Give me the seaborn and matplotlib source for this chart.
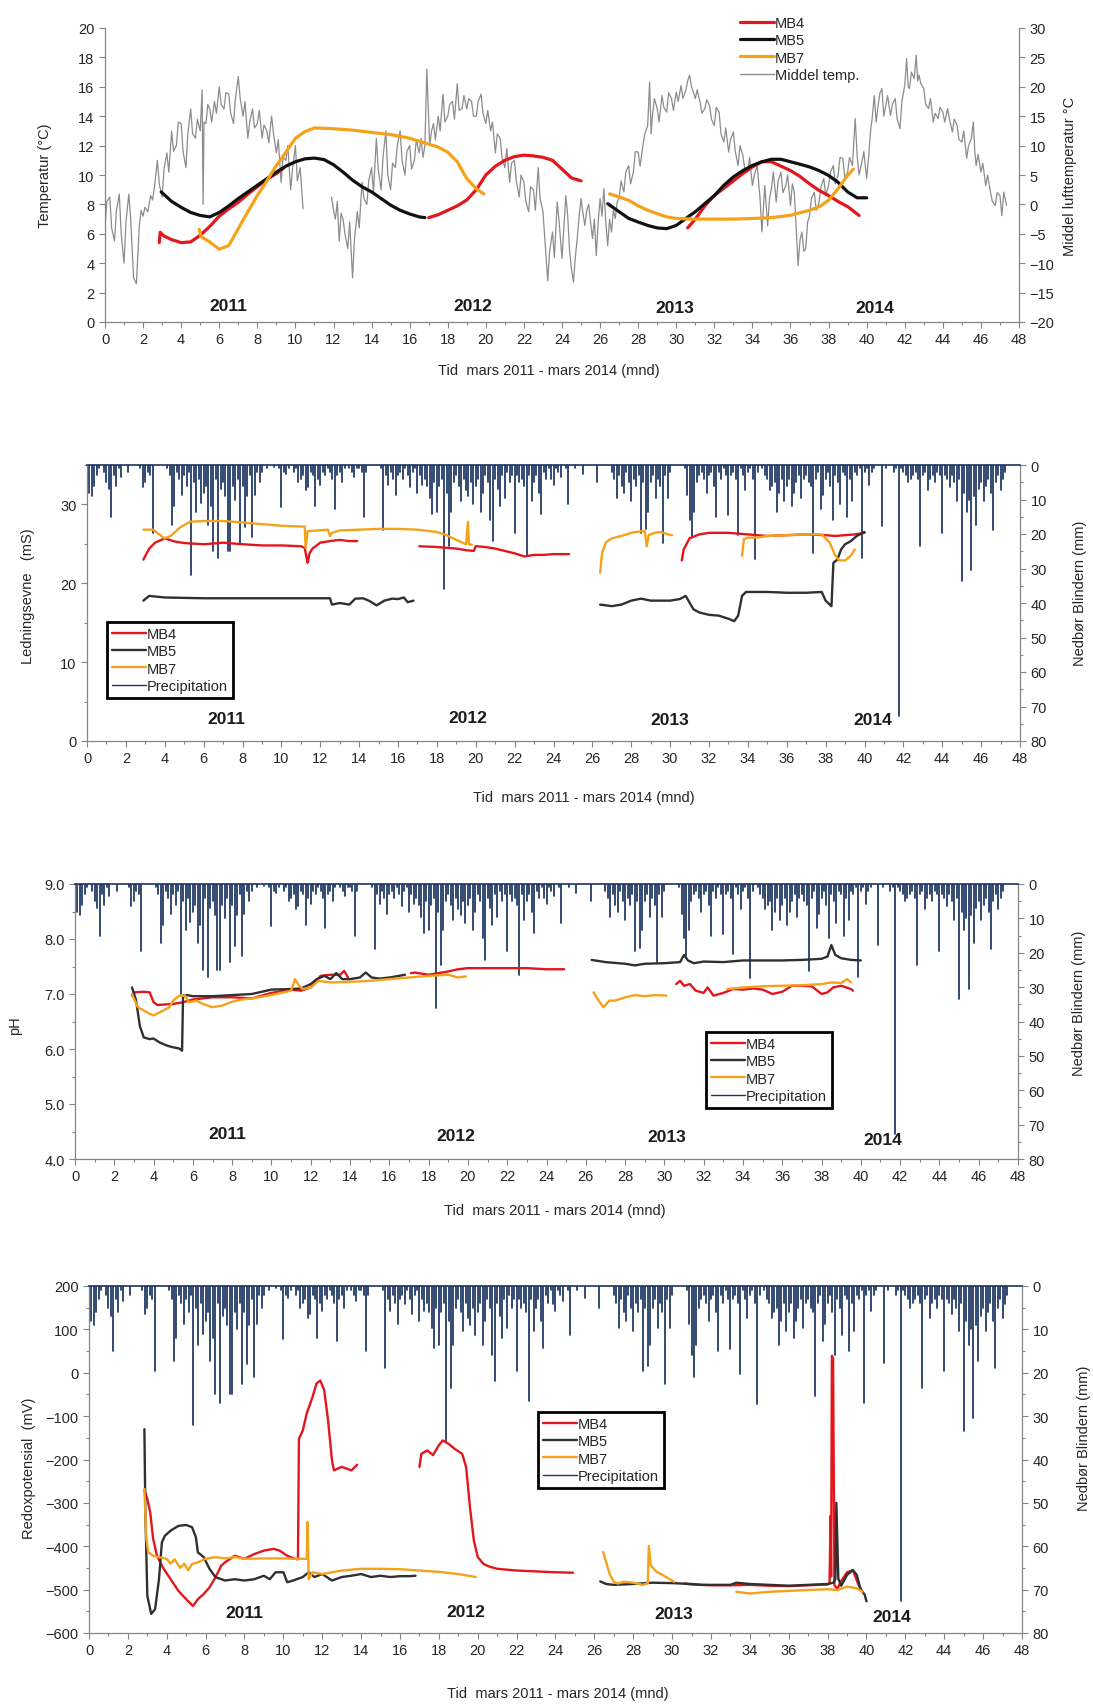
"""
Grunnvannsovervaking MB4 / MB5 / MB7, mars 2011 - mars 2014.

Fire paneler: temperatur, ledningsevne, pH og redokspotensial,
med lufttemperatur eller nedbor (Blindern) paa hoyre akse.
"""

import numpy as np
import pandas as pd
import matplotlib
matplotlib.use("Agg")
import matplotlib.pyplot as plt
import seaborn as sns
from matplotlib.lines import Line2D
from matplotlib.ticker import MultipleLocator, FormatStrFormatter

sns.set_theme(style="ticks")
plt.rcParams['font.family'] = ['Liberation Sans', 'DejaVu Sans']

# ---------------------------------------------------------------------------
# Data (months since March 2011)
# ---------------------------------------------------------------------------

YEARS = ["2011", "2012", "2013", "2014"]

# Panel 1: well temperature (deg C, left axis)
MB4_TEMP = [
    [(2.85, 5.4), (2.9, 6.1), (3.1, 5.85), (3.5, 5.6), (4.0, 5.4), (4.5, 5.45), (5.0, 5.9),
     (5.5, 6.5), (6.0, 7.2), (6.5, 7.7), (7.0, 8.15), (7.5, 8.7), (8.0, 9.2), (8.5, 9.7),
     (9.0, 10.1), (9.4, 10.5)],
    [(17.0, 7.1), (17.5, 7.3), (18.0, 7.6), (18.5, 7.9), (19.0, 8.3), (19.5, 9.0), (20.0, 10.0),
     (20.5, 10.6), (21.0, 11.0), (21.5, 11.25), (22.0, 11.35), (22.5, 11.3), (23.0, 11.2),
     (23.5, 11.0), (24.0, 10.4), (24.5, 9.8), (25.0, 9.6)],
    [(30.6, 6.4), (31.0, 7.0), (31.5, 7.9), (32.0, 8.6), (32.5, 9.1), (33.0, 9.6), (33.5, 10.1),
     (34.0, 10.55), (34.5, 10.9), (35.0, 10.9), (35.5, 10.6), (36.0, 10.3), (36.5, 9.9),
     (37.0, 9.4), (37.5, 8.95), (38.0, 8.6), (38.5, 8.2), (39.0, 7.85), (39.6, 7.25)],
]
MB5_TEMP = [
    [(2.95, 8.85), (3.5, 8.2), (4.0, 7.8), (4.5, 7.45), (5.0, 7.25), (5.5, 7.15), (6.0, 7.45),
     (6.5, 7.9), (7.0, 8.4), (7.5, 8.85), (8.0, 9.3), (8.5, 9.75), (9.0, 10.2), (9.5, 10.6),
     (10.0, 10.9), (10.5, 11.1), (11.0, 11.15), (11.5, 11.05), (12.0, 10.7), (12.5, 10.2),
     (13.0, 9.65), (13.5, 9.2), (14.0, 8.85), (14.5, 8.4), (15.0, 7.95), (15.5, 7.6),
     (16.0, 7.35), (16.5, 7.15), (16.8, 7.1)],
    [(26.4, 8.05), (27.0, 7.5), (27.5, 7.05), (28.0, 6.8), (28.5, 6.57), (29.0, 6.4),
     (29.5, 6.35), (30.0, 6.57), (30.5, 7.04), (31.0, 7.5), (31.5, 8.05), (32.0, 8.6),
     (32.5, 9.3), (33.0, 9.87), (33.5, 10.3), (34.0, 10.65), (34.5, 10.9), (35.0, 11.07),
     (35.5, 11.07), (36.0, 10.9), (36.5, 10.73), (37.0, 10.55), (37.5, 10.3), (38.0, 9.97),
     (38.5, 9.5), (39.0, 8.85), (39.5, 8.45), (40.0, 8.45)],
]
MB7_TEMP = [
    [(4.95, 6.3), (5.05, 5.8), (5.5, 5.45), (6.0, 4.95), (6.5, 5.2), (7.0, 6.35), (7.5, 7.5),
     (8.0, 8.6), (8.5, 9.6), (9.0, 10.65), (9.5, 11.55), (10.0, 12.5), (10.5, 12.95),
     (11.0, 13.2), (12.0, 13.15), (13.0, 13.05), (14.0, 12.9), (15.0, 12.75), (16.0, 12.5),
     (17.0, 12.1), (17.5, 11.9), (18.0, 11.55), (18.5, 10.9), (19.0, 9.75), (19.5, 9.07),
     (19.9, 8.7)],
    [(26.5, 8.72), (27.0, 8.5), (27.5, 8.28), (28.0, 7.9), (28.5, 7.6), (29.0, 7.37),
     (29.5, 7.15), (30.0, 7.04), (31.0, 7.0), (32.0, 7.0), (33.0, 7.0), (34.0, 7.04),
     (35.0, 7.1), (36.0, 7.26), (37.0, 7.6), (37.5, 7.83), (38.0, 8.28), (38.5, 9.07),
     (39.0, 9.97), (39.3, 10.4)],
]

# Panel 1: mean air temperature (deg C, right axis)
AIR_TEMP = [
    [(0.0, -3.75), (0.1, 0.5), (0.25, 1.25), (0.35, -4.0), (0.5, -6.25), (0.6, -1.0),
     (0.75, 1.75), (0.85, -5.0), (1.0, -10.0), (1.1, -3.0), (1.25, 1.75), (1.35, -2.5),
     (1.5, -12.5), (1.65, -13.5), (1.8, -3.75), (1.9, -1.0), (2.0, -2.0), (2.1, -0.5),
     (2.25, -1.25), (2.4, 1.5), (2.5, 0.75), (2.6, 3.0), (2.75, 7.5), (2.85, 3.5), (3.0, 1.25),
     (3.1, 6.0), (3.25, 8.75), (3.35, 5.5), (3.5, 12.5), (3.6, 9.0), (3.75, 10.0), (3.85, 14.0),
     (4.0, 13.75), (4.1, 9.0), (4.25, 6.25), (4.35, 12.0), (4.5, 16.25), (4.6, 12.0),
     (4.75, 11.25), (4.85, 14.5), (5.0, 12.5), (5.1, 19.5), (5.15, 0.0), (5.2, 14.0),
     (5.3, 13.75), (5.4, 17.0), (5.5, 16.25), (5.6, 14.0), (5.75, 17.5), (5.85, 15.5),
     (6.0, 20.0), (6.1, 17.0), (6.25, 16.25), (6.35, 19.0), (6.5, 18.75), (6.6, 15.5),
     (6.75, 13.75), (6.85, 18.0), (7.0, 21.75), (7.1, 18.0), (7.25, 15.0), (7.35, 17.5),
     (7.5, 11.25), (7.6, 14.0), (7.75, 16.25), (7.85, 13.0), (8.0, 13.75), (8.1, 16.0),
     (8.25, 11.25), (8.35, 13.5), (8.5, 12.5), (8.6, 10.5), (8.75, 15.0), (8.85, 12.0),
     (9.0, 8.75), (9.1, 11.0), (9.25, 3.75), (9.35, 8.0), (9.5, 7.5), (9.6, 10.0),
     (9.75, 2.5), (9.85, 6.0), (10.0, 10.0), (10.1, 4.0), (10.25, 6.25), (10.4, -0.75)],
    [(11.9, 1.25), (12.0, -1.0), (12.1, -2.5), (12.2, 0.5), (12.3, -6.25), (12.4, -1.5),
     (12.5, -2.5), (12.6, -5.0), (12.75, -7.5), (12.85, -3.0), (13.0, -12.5), (13.1, -6.0),
     (13.25, -1.25), (13.35, -4.0), (13.5, 3.75), (13.6, 1.0), (13.75, 0.0), (13.85, 4.0),
     (14.0, 6.25), (14.1, 2.0), (14.25, 11.25), (14.35, 6.0), (14.5, 2.5), (14.6, 8.0),
     (14.75, 12.5), (14.85, 5.0), (15.0, 2.5), (15.1, 7.0), (15.25, 6.25), (15.35, 10.0),
     (15.5, 12.5), (15.6, 7.5), (15.75, 5.0), (15.85, 9.0), (16.0, 10.0), (16.1, 6.0),
     (16.25, 7.5), (16.35, 11.0), (16.5, 8.75), (16.6, 11.25), (16.7, 8.0), (16.8, 10.0),
     (16.9, 23.0), (17.05, 10.0), (17.15, 12.5), (17.25, 13.75), (17.35, 11.0), (17.5, 15.0),
     (17.6, 12.5), (17.75, 18.75), (17.85, 14.0), (18.0, 15.0), (18.1, 17.0), (18.25, 17.5),
     (18.35, 14.5), (18.5, 20.5), (18.6, 16.0), (18.75, 16.25), (18.85, 18.5), (19.0, 16.25),
     (19.1, 18.0), (19.25, 17.5), (19.35, 15.0), (19.5, 15.0), (19.6, 17.5), (19.75, 18.75),
     (19.85, 15.5), (20.0, 13.75), (20.1, 16.0), (20.25, 12.5), (20.35, 14.0), (20.5, 8.75),
     (20.6, 12.0), (20.75, 11.25), (20.85, 8.0), (21.0, 6.25), (21.1, 9.5), (21.25, 3.75),
     (21.35, 7.0), (21.5, 7.5), (21.6, 4.0), (21.75, 1.25), (21.85, 5.0), (22.0, 3.75),
     (22.1, 0.5), (22.25, -1.25), (22.35, 3.0), (22.5, 2.5), (22.6, -1.0), (22.75, 6.25),
     (22.85, 1.0), (23.0, -1.25), (23.1, -6.0), (23.25, -13.0), (23.35, -8.0), (23.5, -4.7),
     (23.6, -9.0), (23.75, 0.4), (23.85, -3.0), (24.0, -9.2), (24.1, -4.0), (24.2, 1.5),
     (24.3, -2.0), (24.4, -8.0), (24.5, -11.0), (24.6, -13.2), (24.7, -9.0), (24.8, -5.8),
     (24.9, -2.0), (25.0, 1.0), (25.1, -1.5), (25.2, -3.6), (25.3, -1.0), (25.4, 0.0),
     (25.5, -3.0), (25.6, -5.8), (25.7, -2.5), (25.8, -8.7), (25.9, -3.0), (26.0, 1.0),
     (26.1, -2.0), (26.2, 2.7), (26.3, -3.0), (26.4, -7.0), (26.5, -2.5), (26.6, -4.7),
     (26.7, -1.0), (26.8, -2.4), (26.9, 0.5), (27.0, 1.0), (27.1, 4.0), (27.25, 2.1),
     (27.35, 5.5), (27.5, 6.6), (27.6, 3.5), (27.75, 5.5), (27.85, 9.0), (28.0, 8.9),
     (28.1, 6.5), (28.25, 10.0), (28.35, 12.0), (28.5, 13.4), (28.6, 20.8), (28.68, 12.0),
     (28.75, 15.1), (28.85, 18.0), (29.0, 16.3), (29.1, 14.0), (29.25, 18.5), (29.35, 16.5),
     (29.5, 15.7), (29.6, 19.0), (29.75, 18.0), (29.85, 16.0), (30.0, 19.1), (30.1, 17.5),
     (30.25, 20.2), (30.35, 18.0), (30.5, 19.4), (30.6, 21.0), (30.7, 22.0), (30.8, 20.0),
     (30.9, 19.1), (31.0, 18.0), (31.1, 19.5), (31.25, 17.4), (31.35, 15.5), (31.5, 16.3),
     (31.6, 17.8), (31.75, 16.8), (31.85, 14.5), (32.0, 13.4), (32.1, 16.5), (32.25, 15.7),
     (32.35, 12.0), (32.5, 10.6), (32.6, 13.0), (32.75, 8.9), (32.85, 11.0), (33.0, 12.3),
     (33.1, 9.0), (33.25, 6.6), (33.35, 10.0), (33.5, 8.3), (33.6, 6.0), (33.75, 5.5),
     (33.85, 8.0), (34.0, 3.2), (34.1, 5.0), (34.25, 6.6), (34.4, 1.0), (34.5, -4.7),
     (34.65, 3.2), (34.8, -3.6), (34.9, 1.0), (35.0, 2.7), (35.1, 5.5), (35.25, 0.4),
     (35.35, 4.0), (35.5, 5.5), (35.6, 2.0), (35.75, 3.2), (35.85, 5.0), (36.0, -0.2),
     (36.1, 3.5), (36.2, 2.1), (36.3, -4.0), (36.4, -10.4), (36.5, -6.0), (36.6, -4.7),
     (36.7, -8.0), (36.8, -7.5), (36.9, -3.0), (37.0, -1.9), (37.1, 1.0), (37.25, 2.1),
     (37.35, -1.0), (37.5, 0.4), (37.6, 3.0), (37.75, 4.4), (37.85, 1.5), (38.0, 3.2),
     (38.1, 5.5), (38.25, 6.6), (38.35, 3.5), (38.5, 5.0), (38.6, 8.0), (38.75, 7.8),
     (38.85, 4.5), (39.0, 5.5), (39.1, 8.0), (39.25, 6.6), (39.4, 14.6), (39.5, 8.3),
     (39.6, 5.0), (39.75, 7.2), (39.85, 9.0), (40.0, 4.4), (40.1, 8.0), (40.2, 12.3),
     (40.3, 15.0), (40.4, 18.5), (40.5, 14.0), (40.6, 16.8), (40.7, 19.0), (40.8, 19.7),
     (40.9, 15.0), (41.0, 16.8), (41.1, 18.5), (41.25, 15.1), (41.35, 17.0), (41.5, 18.0),
     (41.6, 14.5), (41.75, 12.9), (41.85, 17.5), (42.0, 20.2), (42.1, 24.8), (42.18, 20.0),
     (42.25, 19.7), (42.35, 22.5), (42.5, 21.4), (42.6, 25.4), (42.68, 21.0), (42.75, 22.0),
     (42.85, 20.5), (43.0, 19.7), (43.1, 17.0), (43.25, 16.3), (43.35, 18.0), (43.5, 14.0),
     (43.6, 15.5), (43.75, 14.6), (43.85, 16.5), (44.0, 15.7), (44.1, 14.0), (44.25, 16.3),
     (44.35, 14.5), (44.5, 12.3), (44.6, 14.5), (44.75, 13.4), (44.85, 11.0), (45.0, 10.6),
     (45.1, 12.5), (45.25, 7.8), (45.35, 10.0), (45.5, 11.2), (45.6, 14.0), (45.68, 9.0),
     (45.75, 6.6), (45.85, 8.5), (46.0, 5.5), (46.1, 7.0), (46.25, 3.2), (46.35, 5.0),
     (46.5, 2.1), (46.6, 0.5), (46.75, -0.2), (46.85, 2.0), (47.0, 1.5), (47.1, -1.9),
     (47.2, 2.1), (47.35, -0.2)],
]

# Panel 2: conductivity (mS)
MB4_COND = [
    [(2.9, 23.0), (3.2, 24.4), (3.5, 25.15), (4.0, 25.7), (4.5, 25.3), (5.0, 25.1), (6.0, 24.95),
     (7.0, 25.15), (8.0, 24.95), (9.0, 24.8), (10.0, 24.8), (11.0, 24.7), (11.2, 24.5),
     (11.3, 23.2), (11.35, 22.6), (11.45, 23.8), (11.6, 24.4), (12.0, 25.15), (12.5, 25.35),
     (13.0, 25.5), (13.5, 25.35), (13.9, 25.35)],
    [(17.1, 24.7), (18.0, 24.6), (19.0, 24.4), (19.5, 24.2), (19.9, 24.1), (20.0, 24.7),
     (20.5, 24.6), (21.0, 24.4), (21.5, 24.1), (22.0, 23.8), (22.5, 23.4), (23.0, 23.6),
     (23.5, 23.6), (24.0, 23.7), (24.8, 23.7)],
    [(30.6, 22.9), (30.7, 24.3), (31.0, 25.7), (31.5, 26.2), (32.0, 26.4), (33.0, 26.4),
     (34.0, 26.2), (35.0, 26.0), (36.0, 26.1), (37.0, 26.2), (38.0, 26.1), (38.5, 26.0),
     (39.0, 26.1), (39.5, 26.2), (40.0, 26.4)],
]
MB5_COND = [
    [(2.9, 17.8), (3.2, 18.4), (4.0, 18.2), (6.0, 18.1), (8.0, 18.1), (10.0, 18.1), (12.5, 18.1),
     (12.6, 17.3), (13.0, 17.5), (13.5, 17.3), (13.8, 18.05), (14.2, 18.1), (14.5, 17.8),
     (14.9, 17.2), (15.3, 17.8), (15.7, 18.05), (16.0, 18.0), (16.3, 18.2), (16.5, 17.6),
     (16.8, 17.8)],
    [(26.4, 17.3), (27.0, 17.1), (27.5, 17.3), (28.0, 17.8), (28.5, 18.05), (29.0, 17.8),
     (30.0, 17.8), (30.5, 18.0), (30.8, 18.4), (31.2, 16.7), (31.5, 16.3), (32.0, 16.0),
     (32.5, 15.9), (33.0, 15.5), (33.3, 15.2), (33.5, 15.9), (33.7, 18.4), (33.9, 18.9),
     (35.0, 18.9), (36.0, 18.8), (37.0, 18.8), (37.8, 18.9), (38.0, 17.8), (38.3, 17.1),
     (38.4, 22.6), (38.6, 23.0), (38.8, 24.3), (39.0, 24.95), (39.3, 25.35), (39.6, 26.0),
     (40.0, 26.5)],
]
MB7_COND = [
    [(2.9, 26.8), (3.4, 26.8), (3.6, 26.4), (4.0, 25.7), (4.3, 26.0), (4.8, 27.1), (5.3, 27.8),
     (6.0, 27.9), (7.0, 27.9), (8.0, 27.7), (9.0, 27.5), (10.0, 27.3), (11.0, 27.2),
     (11.2, 27.2), (11.25, 24.5), (11.35, 26.6), (12.4, 26.8), (12.5, 26.0), (12.6, 26.4),
     (13.0, 26.7), (14.0, 26.8), (15.0, 26.9), (16.0, 26.9), (17.0, 26.8), (18.0, 26.5),
     (18.5, 26.1), (19.0, 25.5), (19.5, 24.95), (19.6, 27.8), (19.65, 24.95), (19.8, 24.9)],
    [(26.4, 21.35), (26.5, 23.9), (26.7, 25.2), (27.0, 25.7), (27.5, 26.0), (28.0, 26.4),
     (28.5, 26.6), (28.7, 26.6), (28.8, 24.7), (28.9, 26.1), (29.2, 26.4), (29.5, 26.5),
     (29.9, 26.2), (30.1, 26.1)],
    [(33.7, 23.5), (33.8, 25.6), (34.0, 25.8), (34.5, 25.8), (35.0, 26.0), (36.0, 26.1),
     (37.0, 26.2), (37.8, 26.2), (38.2, 25.2), (38.5, 23.5), (38.7, 22.9), (39.0, 22.9),
     (39.3, 23.5), (39.5, 24.3)],
]

# Panel 3: pH
MB4_PH = [
    [(2.9, 6.97), (3.0, 7.03), (3.5, 7.04), (3.8, 7.03), (4.0, 6.85), (4.2, 6.8), (5.0, 6.82),
     (5.5, 6.85), (6.0, 6.9), (7.0, 6.94), (8.0, 6.94), (9.0, 6.92), (10.0, 7.02), (11.0, 7.08),
     (11.5, 7.06), (12.0, 7.12), (12.3, 7.24), (12.5, 7.33), (13.0, 7.35), (13.5, 7.35),
     (13.7, 7.42), (13.9, 7.3)],
    [(17.1, 7.38), (17.3, 7.39), (18.0, 7.35), (19.0, 7.41), (19.5, 7.45), (20.0, 7.47),
     (21.0, 7.47), (22.0, 7.47), (23.0, 7.47), (24.0, 7.45), (24.9, 7.45)],
    [(30.6, 7.18), (30.8, 7.24), (31.0, 7.15), (31.3, 7.18), (31.6, 7.06), (32.0, 7.02),
     (32.2, 7.12), (32.5, 6.97), (33.0, 7.02), (33.5, 7.09), (34.0, 7.08), (34.5, 7.1),
     (35.0, 7.08), (35.5, 7.0), (36.0, 7.04), (36.5, 7.15), (37.0, 7.15), (37.5, 7.14),
     (38.0, 7.0), (38.3, 7.03), (38.6, 7.12), (39.0, 7.15), (39.5, 7.09), (39.6, 7.06)],
]
MB5_PH = [
    [(2.9, 7.12), (3.1, 6.9), (3.3, 6.42), (3.5, 6.21), (3.8, 6.18), (4.0, 6.19), (4.3, 6.12),
     (4.7, 6.06), (5.0, 6.03), (5.3, 6.01), (5.45, 5.97), (5.5, 6.97), (5.7, 6.98), (6.0, 6.96),
     (7.0, 6.96), (8.0, 6.98), (9.0, 7.0), (10.0, 7.08), (11.0, 7.09), (11.5, 7.1), (12.0, 7.18),
     (12.3, 7.27), (12.7, 7.33), (13.0, 7.27), (13.3, 7.38), (13.6, 7.27), (14.0, 7.27),
     (14.5, 7.3), (14.8, 7.39), (15.1, 7.3), (15.5, 7.28), (16.0, 7.3), (16.5, 7.33),
     (16.8, 7.35)],
    [(26.3, 7.62), (27.0, 7.58), (28.0, 7.55), (28.5, 7.52), (29.0, 7.55), (30.0, 7.56),
     (30.8, 7.58), (31.0, 7.71), (31.2, 7.61), (31.5, 7.56), (32.0, 7.59), (33.0, 7.58),
     (34.0, 7.61), (35.0, 7.61), (36.0, 7.61), (37.0, 7.62), (38.0, 7.64), (38.3, 7.68),
     (38.5, 7.89), (38.7, 7.71), (39.0, 7.65), (39.5, 7.62), (40.0, 7.61)],
]
MB7_PH = [
    [(2.9, 7.0), (3.2, 6.76), (3.5, 6.7), (3.8, 6.64), (4.0, 6.61), (4.5, 6.7), (4.8, 6.76),
     (5.0, 6.88), (5.3, 6.97), (5.6, 6.97), (5.8, 6.85), (6.2, 6.88), (6.5, 6.82), (7.0, 6.76),
     (7.5, 6.79), (8.0, 6.86), (8.5, 6.9), (9.0, 6.92), (10.0, 6.98), (11.0, 7.06), (11.2, 7.27),
     (11.4, 7.15), (11.6, 7.09), (12.0, 7.12), (12.4, 7.24), (13.0, 7.21), (14.0, 7.22),
     (15.0, 7.24), (16.0, 7.27), (17.0, 7.3), (18.0, 7.33), (19.0, 7.35), (19.5, 7.3),
     (19.9, 7.32)],
    [(26.4, 7.03), (26.6, 6.91), (26.9, 6.76), (27.2, 6.88), (27.5, 6.88), (28.0, 6.94),
     (28.5, 6.98), (29.0, 6.96), (29.5, 6.98), (30.1, 6.97)],
    [(33.2, 7.09), (33.5, 7.1), (34.0, 7.12), (35.0, 7.14), (36.0, 7.15), (37.0, 7.16),
     (38.0, 7.18), (38.5, 7.21), (39.0, 7.2), (39.3, 7.27), (39.5, 7.21)],
]

# Panel 4: redox potential (mV)
MB4_REDOX = [
    [(2.85, -270), (3.0, -291), (3.15, -322), (3.3, -383), (3.5, -422), (3.8, -449),
     (4.2, -476), (4.6, -503), (5.0, -522), (5.35, -538), (5.6, -522), (5.9, -510),
     (6.2, -495), (6.5, -472), (6.8, -445), (7.0, -437), (7.5, -422), (8.0, -429),
     (8.5, -418), (9.0, -410), (9.5, -406), (9.8, -410), (10.2, -422), (10.6, -429),
     (10.75, -430), (10.8, -152), (11.0, -133), (11.2, -94), (11.5, -56), (11.7, -25),
     (11.9, -18), (12.1, -40), (12.3, -110), (12.5, -202), (12.6, -225), (13.0, -217),
     (13.5, -225), (13.8, -212)],
    [(17.0, -217), (17.1, -187), (17.4, -179), (17.7, -190), (18.0, -167), (18.2, -156),
     (18.5, -164), (18.8, -175), (19.2, -187), (19.4, -217), (19.6, -310), (19.8, -387),
     (20.0, -425), (20.3, -441), (20.6, -447), (21.0, -452), (22.0, -456), (23.0, -458),
     (24.0, -460), (24.9, -461)],
    [(30.6, -486), (31.0, -488), (32.0, -490), (33.0, -490), (34.0, -489), (35.0, -491),
     (36.0, -492), (37.0, -490), (38.0, -488), (38.1, -485), (38.15, -330), (38.18, -470),
     (38.22, 39), (38.28, 32), (38.35, -490), (38.5, -498), (38.7, -480), (39.0, -460),
     (39.3, -455), (39.6, -490), (39.8, -505)],
]
MB5_REDOX = [
    [(2.85, -130), (2.9, -322), (3.0, -514), (3.2, -556), (3.4, -545), (3.6, -476),
     (3.75, -391), (3.9, -376), (4.2, -364), (4.6, -353), (5.0, -351), (5.3, -356),
     (5.5, -379), (5.6, -414), (5.9, -425), (6.2, -452), (6.5, -471), (7.0, -479),
     (7.5, -476), (8.0, -479), (8.5, -476), (9.0, -468), (9.3, -476), (9.6, -460),
     (10.0, -460), (10.2, -483), (10.5, -479), (11.0, -471), (11.3, -460), (11.6, -471),
     (12.0, -464), (12.5, -479), (13.0, -471), (13.5, -468), (14.0, -464), (14.5, -471),
     (15.0, -468), (15.5, -471), (16.0, -469), (16.5, -469), (16.8, -468)],
    [(26.3, -481), (26.6, -487), (27.0, -489), (28.0, -487), (29.0, -484), (30.0, -485),
     (31.0, -487), (31.5, -489), (32.0, -489), (33.0, -489), (33.3, -484), (34.0, -487),
     (35.0, -489), (36.0, -491), (37.0, -489), (38.0, -487), (38.3, -484), (38.4, -475),
     (38.45, -300), (38.55, -475), (38.7, -491), (39.0, -466), (39.3, -455), (39.5, -466),
     (39.7, -500), (39.9, -511), (40.0, -527)],
]
MB7_REDOX = [
    [(2.85, -268), (2.95, -383), (3.05, -414), (3.3, -422), (3.6, -425), (4.0, -429),
     (4.2, -440), (4.4, -430), (4.7, -450), (4.9, -440), (5.1, -455), (5.3, -441),
     (5.6, -437), (6.0, -429), (6.5, -425), (7.0, -428), (7.5, -425), (8.0, -429),
     (9.0, -428), (10.0, -428), (10.5, -429), (11.0, -429), (11.2, -429), (11.25, -344),
     (11.3, -476), (11.5, -460), (12.0, -464), (12.5, -460), (13.0, -456), (14.0, -452),
     (15.0, -452), (16.0, -453), (17.0, -456), (18.0, -459), (19.0, -464), (19.9, -471)],
    [(26.45, -413), (26.6, -436), (26.8, -466), (27.0, -482), (27.2, -486), (27.5, -482),
     (28.0, -484), (28.5, -489), (28.75, -485), (28.8, -399), (28.9, -444), (29.2, -459),
     (29.5, -466), (29.8, -474), (30.1, -482)],
    [(33.3, -505), (34.0, -509), (35.0, -505), (36.0, -503), (37.0, -501), (38.0, -499),
     (38.5, -501), (39.0, -493), (39.5, -497), (39.8, -505)],
]

# Precipitation Blindern (mm), one row per month, 8 readings per month
PRECIP_STEP = 0.125
PRECIP_MM = [
    4, 8, 9, 6, 3, 1, 0, 2,
    5, 7, 15, 3, 6, 1, 3.5, 0,
    0, 2, 0, 0, 0, 0, 1, 6.5,
    5, 2, 3, 19.6, 0, 0, 0, 0,
    0, 1, 3, 17.3, 12, 2, 4, 8.8,
    3, 6, 2, 32, 5, 13.5, 4, 11,
    8, 6, 17.3, 12, 25, 4, 27, 7,
    5, 9, 25, 25, 6, 10, 4, 22.7,
    6, 18, 9, 3, 21, 8.8, 2, 5,
    2, 0, 1, 0, 0, 0.5, 0, 1,
    12.3, 2, 2.7, 1, 0, 2, 1, 5,
    4, 3, 7.3, 6.5, 2, 3, 12, 4,
    5.8, 2, 3, 1, 2, 4, 12.7, 3,
    2, 5, 1, 0, 1, 2, 3.5, 1,
    1, 2, 15, 2, 0, 0, 0, 0,
    0, 1, 18.8, 3, 5.8, 2, 4, 8.8,
    3, 2, 4.2, 1, 3, 6.5, 2, 1,
    8, 3, 5.8, 4, 6, 9.6, 14.2, 5,
    13.5, 6, 4, 36, 8, 23.5, 13.5, 5,
    3, 6, 10.4, 4, 7.3, 9, 5, 11.2,
    6, 4, 13.5, 8, 3, 5, 15.8, 22,
    4, 7, 12, 3, 9.6, 2, 5, 3,
    19.6, 3, 5, 4, 6, 26.5, 3, 10.4,
    5, 3, 8, 14.2, 2, 4, 1, 4.2,
    5.8, 1, 2, 3.5, 0, 1, 11.2, 0,
    0, 1, 0, 0, 2.7, 0, 0, 0,
    0, 0, 5, 0, 0, 0, 0, 0,
    2, 4, 9.6, 3, 6, 8, 2, 5,
    10.4, 4, 6, 3, 19.6, 5, 18.5, 13.5,
    5, 3, 9.6, 4, 6, 22.7, 3, 9.6,
    2, 0, 0, 0, 0, 0, 1, 8.8,
    15.8, 21, 13.5, 5, 3, 2, 4, 8,
    3, 2, 6, 15, 2, 4, 1, 3,
    14.6, 3, 2, 4, 20.4, 1, 3, 7.3,
    2, 1, 4, 27.3, 2, 0, 1, 3,
    4, 7.3, 6, 5, 13.5, 8, 4, 10.4,
    6, 4, 12, 8, 5, 3, 9.6, 4,
    3, 5, 6, 25.4, 4, 2, 12.7, 8.8,
    4, 2, 6, 15.8, 3, 5, 11.2, 2,
    3, 15, 4, 10.4, 2, 3, 1, 27,
    2, 1, 5.8, 2, 1, 0, 0, 17.7,
    0, 1, 0, 0, 2, 1, 72.7, 1,
    2, 3, 5, 4, 3, 2, 4, 23.5,
    3, 2, 7.3, 4, 3, 5, 2, 3,
    19.6, 3, 4, 6.5, 3, 5, 10.4, 4,
    33.5, 8, 13.5, 10, 30.4, 9, 17.3, 7,
    5, 10.4, 6, 4, 8, 18.8, 5, 3,
    7.3, 4.2, 2,
]

# Year label positions (month, value on left axis) for each panel
YEAR_POS_TEMP = [(6.5, 1.1), (19.3, 1.1), (29.9, 1.0), (40.4, 1.0)]
YEAR_POS_COND = [(7.15, 2.9), (19.6, 3.0), (30.0, 2.7), (40.4, 2.7)]
YEAR_POS_PH = [(7.75, 4.47), (19.4, 4.42), (30.1, 4.4), (41.1, 4.35)]
YEAR_POS_REDOX = [(8.0, -552), (19.4, -550), (30.1, -555), (41.3, -563)]

# ---------------------------------------------------------------------------
# Styling
# ---------------------------------------------------------------------------
RED = "#e3161d"
BLACK = "#111111"
DARK = "#303030"
ORANGE = "#f5a21b"
GRAY = "#8c8c8c"
NAVY = "#1b3461"
AXIS_GRAY = "#858585"
TEXT = "#262626"
FS = 10.5
XLABEL = "Tid  mars 2011 - mars 2014 (mnd)"

W, H = 1093, 1706
fig = plt.figure(figsize=(W / 100, H / 100), dpi=100)


def place(x0, y0, x1, y1):
    """Axes rectangle from pixel edges (origin top-left)."""
    return [x0 / W, 1 - y1 / H, (x1 - x0) / W, (y1 - y0) / H]


def to_frame(segments):
    rows = [(i, t, v) for i, seg in enumerate(segments) for t, v in seg]
    return pd.DataFrame(rows, columns=["seg", "month", "value"])


def draw(ax, segments, color, lw):
    sns.lineplot(data=to_frame(segments), x="month", y="value", units="seg",
                 estimator=None, sort=False, color=color, linewidth=lw, ax=ax)


def draw_precip(ax2):
    # every reading hangs down from the zero line as its own spike
    months = np.arange(len(PRECIP_MM)) * PRECIP_STEP
    spikes = pd.DataFrame({
        "day": np.repeat(np.arange(len(PRECIP_MM)), 2),
        "month": np.repeat(months, 2),
        "mm": np.ravel([[0.0, v] for v in PRECIP_MM]),
    })
    sns.lineplot(data=spikes, x="month", y="mm", units="day", estimator=None,
                 sort=False, color=NAVY, linewidth=1.25, ax=ax2)
    ax2.set_ylim(80, 0)
    ax2.yaxis.set_major_locator(MultipleLocator(10))
    ax2.yaxis.set_minor_locator(MultipleLocator(5))


def style(ax, ax2, top_spine):
    ax.set_zorder(ax2.get_zorder() + 1)
    ax.patch.set_visible(False)
    ax.set_xlim(0, 48)
    ax.xaxis.set_major_locator(MultipleLocator(2))
    ax.xaxis.set_minor_locator(MultipleLocator(1))
    for a in (ax, ax2):
        a.tick_params(which="both", direction="out", color=AXIS_GRAY,
                      labelcolor=TEXT, labelsize=FS, width=0.8)
        a.tick_params(which="major", length=4)
        a.tick_params(which="minor", length=2.5)
        for s in a.spines.values():
            s.set_color(AXIS_GRAY)
            s.set_linewidth(0.9)
    ax.spines["right"].set_visible(False)
    ax.spines["top"].set_visible(top_spine)
    ax.spines["top"].set_color(NAVY)
    ax.spines["top"].set_linewidth(1.2)
    for side in ("left", "bottom", "top"):
        ax2.spines[side].set_visible(False)
    ax2.spines["right"].set_visible(True)


def labels(ax, ax2, left, right, xl_pos, left_pos, right_pos):
    ax.set_xlabel(XLABEL, fontsize=FS, color=TEXT)
    ax.xaxis.set_label_coords(*xl_pos)
    ax.set_ylabel(left, fontsize=FS, color=TEXT)
    ax.yaxis.set_label_coords(*left_pos)
    ax2.set_ylabel(right, fontsize=FS, color=TEXT)
    ax2.yaxis.set_label_coords(*right_pos)


def years(ax, positions):
    for (m, v), name in zip(positions, YEARS):
        ax.text(m, v, name, ha="center", va="center", fontsize=12.5,
                fontweight="bold", color="#1a1a1a")


def legend(ax, last, last_color, anchor_px, framed, lw):
    handles = [Line2D([], [], color=RED, lw=lw),
               Line2D([], [], color=BLACK if not framed else DARK, lw=lw),
               Line2D([], [], color=ORANGE, lw=lw),
               Line2D([], [], color=last_color, lw=1.0)]
    leg = ax.legend(handles, ["MB4", "MB5", "MB7", last], loc="upper left",
                    bbox_to_anchor=(anchor_px[0] / W, 1 - anchor_px[1] / H),
                    bbox_transform=fig.transFigure, frameon=framed, fontsize=FS,
                    handlelength=2.3, handletextpad=0.1, labelspacing=0.22,
                    borderpad=0.35, borderaxespad=0, fancybox=False)
    for t in leg.get_texts():
        t.set_color(TEXT)
    if framed:
        leg.get_frame().set_edgecolor("black")
        leg.get_frame().set_linewidth(2.0)
        leg.get_frame().set_alpha(None)


# ---- Panel 1: temperature -------------------------------------------------
ax = fig.add_axes(place(105, 29, 1019, 323))
ax2 = ax.twinx()
draw(ax2, AIR_TEMP, GRAY, 0.9)
ax2.set_ylim(-20, 30)
ax2.yaxis.set_major_locator(MultipleLocator(5))
draw(ax, MB4_TEMP, RED, 2.3)
draw(ax, MB5_TEMP, BLACK, 2.3)
draw(ax, MB7_TEMP, ORANGE, 2.3)
ax.set_ylim(0, 20)
ax.yaxis.set_major_locator(MultipleLocator(2))
style(ax, ax2, top_spine=False)
labels(ax, ax2, "Temperatur (°C)", "Middel lufttemperatur °C",
       (0.486, -0.14), (-0.058, 0.5), (1.048, 0.5))
years(ax, YEAR_POS_TEMP)
legend(ax, "Middel temp.", GRAY, (735, 12), False, 2.3)

# ---- Panel 2: conductivity ------------------------------------------------
ax = fig.add_axes(place(87, 466, 1020, 742))
ax2 = ax.twinx()
draw_precip(ax2)
draw(ax, MB4_COND, RED, 1.7)
draw(ax, MB5_COND, DARK, 1.7)
draw(ax, MB7_COND, ORANGE, 1.7)
ax.set_ylim(0, 35)
ax.yaxis.set_major_locator(MultipleLocator(10))
ax.yaxis.set_minor_locator(MultipleLocator(5))
style(ax, ax2, top_spine=True)
labels(ax, ax2, "Ledningsevne   (mS)", "Nedbør Blindern (mm)",
       (0.532, -0.178), (-0.056, 0.53), (1.057, 0.54))
years(ax, YEAR_POS_COND)
legend(ax, "Precipitation", NAVY, (107, 623), True, 1.7)

# ---- Panel 3: pH ----------------------------------------------------------
ax = fig.add_axes(place(75, 885, 1018, 1160))
ax2 = ax.twinx()
draw_precip(ax2)
draw(ax, MB4_PH, RED, 1.7)
draw(ax, MB5_PH, DARK, 1.7)
draw(ax, MB7_PH, ORANGE, 1.7)
ax.set_ylim(4, 9)
ax.yaxis.set_major_locator(MultipleLocator(1))
ax.yaxis.set_minor_locator(MultipleLocator(0.5))
ax.yaxis.set_major_formatter(FormatStrFormatter("%.1f"))
style(ax, ax2, top_spine=True)
labels(ax, ax2, "pH", "Nedbør Blindern (mm)",
       (0.509, -0.16), (-0.056, 0.49), (1.057, 0.57))
years(ax, YEAR_POS_PH)
legend(ax, "Precipitation", NAVY, (706, 1033), True, 1.7)

# ---- Panel 4: redox potential --------------------------------------------
ax = fig.add_axes(place(89, 1287, 1022, 1634))
ax2 = ax.twinx()
draw_precip(ax2)
draw(ax, MB4_REDOX, RED, 1.7)
draw(ax, MB5_REDOX, DARK, 1.7)
draw(ax, MB7_REDOX, ORANGE, 1.7)
ax.set_ylim(-600, 200)
ax.yaxis.set_major_locator(MultipleLocator(100))
ax.yaxis.set_minor_locator(MultipleLocator(50))
style(ax, ax2, top_spine=True)
labels(ax, ax2, "Redoxpotensial  (mV)", "Nedbør Blindern (mm)",
       (0.503, -0.153), (-0.057, 0.478), (1.059, 0.565))
years(ax, YEAR_POS_REDOX)
legend(ax, "Precipitation", NAVY, (538, 1413), True, 1.7)

fig.savefig("out.png", dpi=100, facecolor="white")
